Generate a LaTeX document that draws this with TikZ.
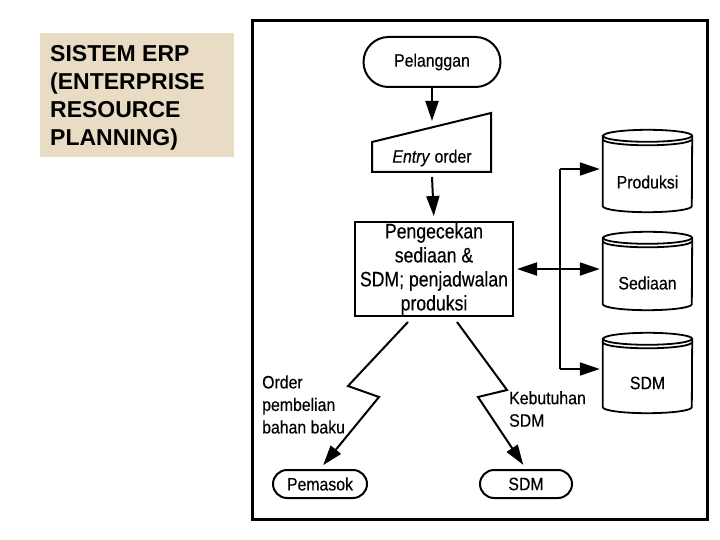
\documentclass[tikz,border=0pt]{standalone}
\usepackage{fontspec}
\setmainfont{Liberation Sans}
\newfontfamily\condf[FakeStretch=0.88,FakeBold=0.3]{Liberation Sans}
\newfontfamily\condbox[FakeStretch=0.84,FakeBold=0.3]{Liberation Sans}
\usetikzlibrary{shapes.misc,arrows.meta,calc}
\definecolor{parch}{RGB}{232,221,196}
\newcommand{\dbcyl}[1]{%
  \draw[cylst] ($(#1.north west)+(0,6)$) -- ($(#1.south west)+(0,-6)$)
     arc[start angle=180,end angle=360,x radius=44.5pt,y radius=6pt]
     -- ($(#1.north east)+(0,6)$)
     arc[start angle=0,end angle=180,x radius=44.5pt,y radius=6pt] -- cycle;
  \draw[cylst] ($(#1.north west)+(0,6)$) arc[start angle=180,end angle=360,x radius=44.5pt,y radius=6pt];
  \draw[cylst] ($(#1.north west)+(0,9.5)$) arc[start angle=180,end angle=360,x radius=44.5pt,y radius=6pt];
}
\begin{document}
\begin{tikzpicture}[x=1pt,y=-1pt,
  txt/.style={font=\condf\fontsize{18}{22.5}\selectfont, inner sep=0pt},
  lbl/.style={txt, align=left},
  term/.style={rounded rectangle, draw, line width=2pt, txt},
  arr/.style={line width=2pt, -{Triangle[length=20pt,width=13pt]}},
  dblarr/.style={line width=2pt, {Triangle[length=20pt,width=13pt]}-{Triangle[length=20pt,width=13pt]}},
  cylst/.style={line width=1.8pt},
  cylbox/.style={minimum width=89pt, inner sep=0pt, draw=none},
]
\useasboundingbox (0,0) rectangle (720,540);
\fill[white] (0,0) rectangle (720,540);

% title
\fill[parch] (40,33) rectangle (234,157);
\node[anchor=north west, inner sep=0pt, align=left,
      font=\bfseries\fontsize{23}{28}\selectfont] (title) at (50,45)
      {SISTEM ERP\\(ENTERPRISE\\RESOURCE\\PLANNING)};

% frame
\draw[line width=3pt] (252,21) rectangle (707,519);

% Pelanggan
\node[term, minimum width=137pt, minimum height=50pt] (pel) at (432,62) {Pelanggan};

% Entry order (manual input)
\draw[line width=2pt] (372,142) -- (491,113) -- (491,172) -- (372,172) -- cycle;
\node[txt] (entry) at (432,158) {\textit{Entry} order};
\coordinate (entrytop) at (432,121);
\coordinate (entrybot) at (432,177);
\draw[arr] (pel) -- (entrytop);

% process box
\node[draw, line width=2pt, minimum width=158pt, minimum height=94pt, inner sep=0pt,
      align=center, font=\condbox\fontsize{21}{24}\selectfont] (box) at (434,269)
      {Pengecekan\\sediaan \&\\SDM; penjadwalan\\produksi};
\draw[arr, shorten >=5pt] (entrybot) -- (box.north);

% cylinders
\node[cylbox, minimum height=82pt] (prod) at (647.5,171) {};
\node[cylbox, minimum height=78pt] (sed) at (647.5,271) {};
\node[cylbox, minimum height=80pt] (sdmc) at (647.5,373) {};
\dbcyl{prod}
\dbcyl{sed}
\dbcyl{sdmc}
\node[txt] (prodt) at (647.5,182) {Produksi};
\node[txt] (sedt) at (647.5,283) {Sediaan};
\node[txt] (sdmt) at (647.5,383) {SDM};

% distribution lines
\coordinate (j1) at (560,169);
\coordinate (j2) at (box.east -| 560,0);
\coordinate (j3) at (560,369);
\draw[line width=2pt] (j1) -- (j3);
\draw[arr, shorten >=3pt] (j1) -- (j1 -| prod.west);
\draw[arr, shorten >=3pt] (j3) -- (j3 -| sdmc.west);
\draw[dblarr, shorten <=3pt, shorten >=3pt] (box.east) -- (j2 -| sed.west);

% bottom terminals
\node[term, minimum width=94pt, minimum height=28pt] (pem) at (320,484) {Pemasok};
\node[term, minimum width=92pt, minimum height=28pt] (sdmb) at (526,484) {SDM};

% lightning connectors
\coordinate (l0) at (408,322);
\coordinate (l1) at (348,386);
\coordinate (l2) at (379,397);
\draw[arr, shorten >=5pt] (l0) -- (l1) -- (l2) -- (pem.north);
\coordinate (r0) at (457,322);
\coordinate (r1) at (507,390);
\coordinate (r2) at (478,397);
\draw[arr, shorten >=5pt] (r0) -- (r1) -- (r2) -- (sdmb.north);

% labels
\node[lbl, anchor=west] (ordl) at (262,404.5) {Order\\pembelian\\bahan baku};
\node[lbl, anchor=west] (kebl) at (509,409) {Kebutuhan\\SDM};
\end{tikzpicture}
\end{document}
